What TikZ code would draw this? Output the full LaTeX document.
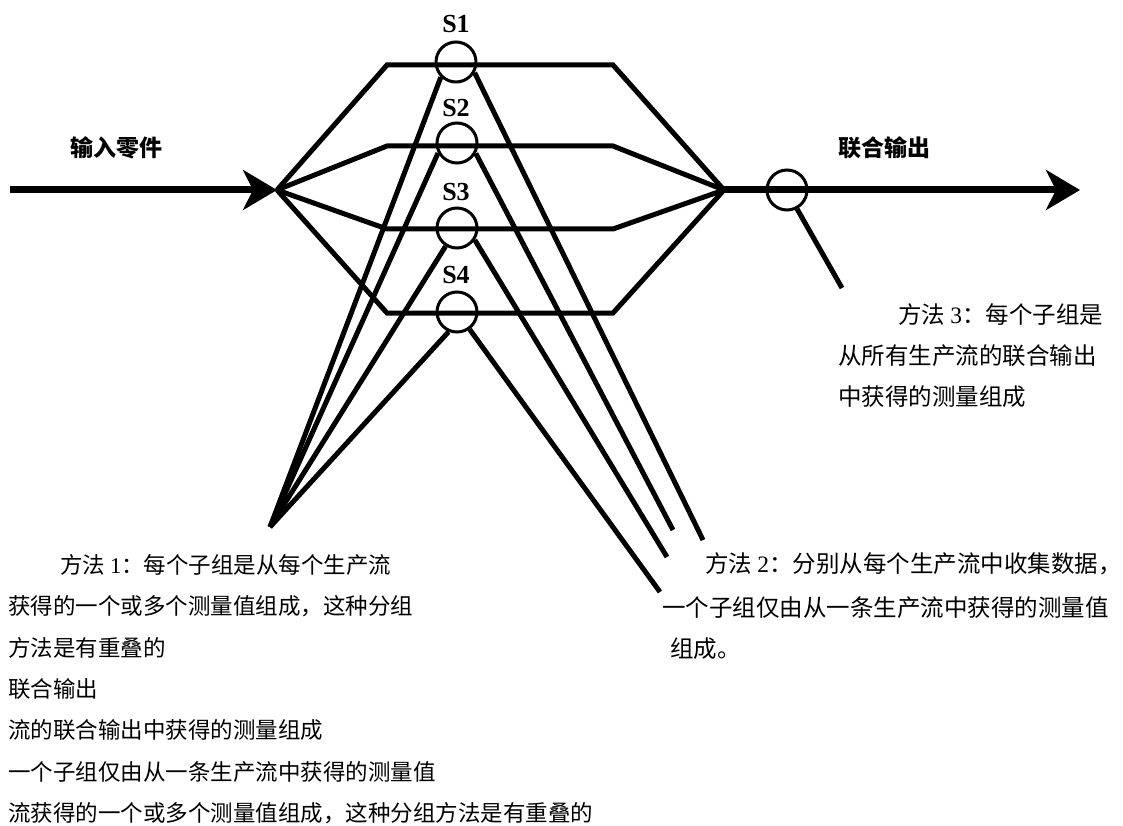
\documentclass[tikz,border=0pt]{standalone}
\usepackage{fontspec}
\setmainfont{Liberation Serif}
\newfontfamily\cjk{Noto Sans CJK SC}
\newfontfamily\lat{Liberation Serif}
\usetikzlibrary{arrows.meta}
\tikzset{
  flow/.style={line width=5pt, line join=miter},
  arrowline/.style={line width=7pt, -{Stealth[length=34pt,width=40pt,inset=10pt]}},
  probe/.style={line width=5pt},
  sampler/.style={circle, draw, line width=3pt, minimum size=40pt, inner sep=0pt},
  slabel/.style={inner sep=0pt, font=\lat\bfseries\fontsize{26}{26}\selectfont},
  headtext/.style={inner sep=0pt, font=\cjk\bfseries\fontsize{23}{23}\selectfont},
  txta/.style={anchor=base west, inner sep=0pt, font=\cjk\fontsize{22.5}{22.5}\selectfont},
  txtb/.style={anchor=base west, inner sep=0pt, font=\cjk\fontsize{23.5}{23.5}\selectfont},
}
\begin{document}
\begin{tikzpicture}[x=1pt,y=-1pt]
\useasboundingbox (0,0) rectangle (1123,826);
% junctions and path corners
\coordinate (inS) at (10,190);
\coordinate (JL) at (277,190);
\coordinate (JR) at (724,190);
\coordinate (outE) at (1080,190);
\coordinate (p1a) at (387,65);  \coordinate (p1b) at (613,65);
\coordinate (p2a) at (387,146); \coordinate (p2b) at (613,146);
\coordinate (p3a) at (387,229); \coordinate (p3b) at (613,229);
\coordinate (p4a) at (387,313); \coordinate (p4b) at (613,313);
% production streams
\draw[flow] (JL) -- (p1a) -- (p1b) -- (JR);
\draw[flow] (JL) -- (p2a) -- (p2b) -- (JR);
\draw[flow] (JL) -- (p3a) -- (p3b) -- (JR);
\draw[flow] (JL) -- (p4a) -- (p4b) -- (JR);
% input and output arrows
\draw[arrowline] (inS) -- (JL);
\draw[arrowline] (JR) -- (outE);
% sampling circles
\node[sampler] (s1) at (456,62) {};
\node[sampler] (s2) at (457,143) {};
\node[sampler] (s3) at (457,228) {};
\node[sampler] (s4) at (457,312) {};
\node[sampler] (oc) at (787,190) {};
% labels
\node[slabel] (l1) at (456,24) {S1};
\node[slabel] (l2) at (456,108) {S2};
\node[slabel] (l3) at (456,192) {S3};
\node[slabel] (l4) at (456,275) {S4};
\node[headtext] (hin) at (116,148) {输入零件};
\node[headtext] (hout) at (884,148) {联合输出};
% method 1 probes
\coordinate (m1) at (270,527);
\draw[probe] (s1.225) -- (m1);
\draw[probe] (s2.208) -- (m1);
\draw[probe] (s3.238) -- (m1);
\draw[probe] (s4.247) -- (m1);
% method 2 probes
\coordinate (e1) at (703,540);
\coordinate (e2) at (673,530);
\coordinate (e3) at (667,557);
\coordinate (e4) at (660,592);
\draw[probe] (s1.330) -- (e1);
\draw[probe] (s2.331) -- (e2);
\draw[probe] (s3.326) -- (e3);
\draw[probe] (s4.306) -- (e4);
% method 3 probe
\coordinate (e5) at (842,288);
\draw[probe] (oc.298) -- (e5);
% method 3 text
\node[txtb] (t31) at (898,323) {方法 {\lat 3}：每个子组是};
\node[txtb] (t32) at (838,364) {从所有生产流的联合输出};
\node[txtb] (t33) at (838,405) {中获得的测量组成};
% method 2 text
\node[txtb] (t21) at (705,572) {方法 {\lat 2}：分别从每个生产流中收集数据，};
\node[txtb] (t22) at (662,616) {一个子组仅由从一条生产流中获得的测量值};
\node[txtb] (t23) at (670,657) {组成。};
% method 1 text
\node[txta] (t11) at (60,573.5) {方法 {\lat 1}：每个子组是从每个生产流};
\node[txta] (t12) at (8,614.5) {获得的一个或多个测量值组成，这种分组};
\node[txta] (t13) at (8,656.5) {方法是有重叠的};
\node[txta] (t14) at (8,697.5) {联合输出};
\node[txta] (t15) at (8,738.5) {流的联合输出中获得的测量组成};
\node[txta] (t16) at (8,780.5) {一个子组仅由从一条生产流中获得的测量值};
\node[txta] (t17) at (8,821.5) {流获得的一个或多个测量值组成，这种分组方法是有重叠的};
\end{tikzpicture}
\end{document}
